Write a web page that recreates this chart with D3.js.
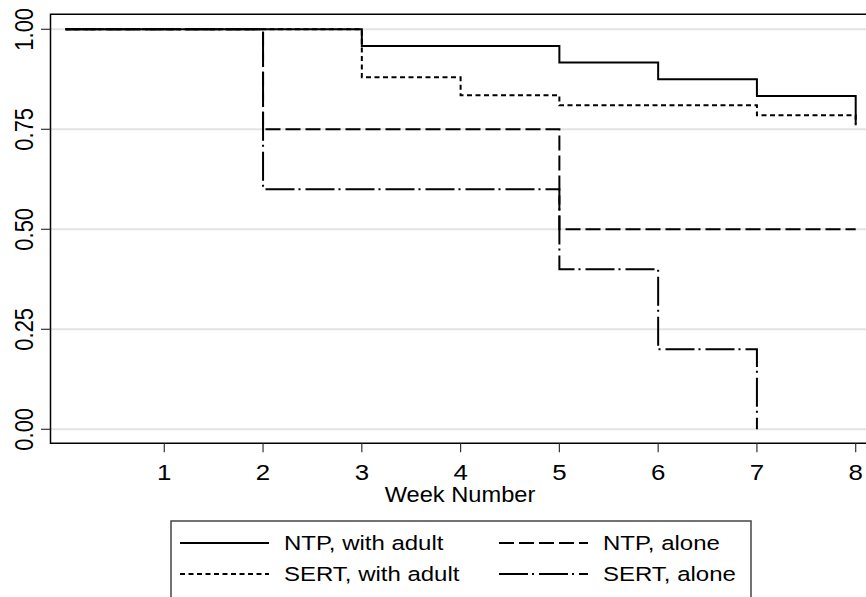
<!DOCTYPE html>
<html>
<head>
<meta charset="utf-8">
<script src="https://cdn.jsdelivr.net/npm/d3@7"></script>
<style>
  body { margin: 0; background: #fff; }
  text { font-family: "Liberation Sans", Arial, sans-serif; fill: #000; }
</style>
</head>
<body>
<script>
// Kaplan-Meier survival estimates by week
var seriesNames = ["NTP, with adult", "NTP, alone", "SERT, with adult", "SERT, alone"];
var ntpAdultWeeks = [0, 3, 5, 6, 7, 8];
var ntpAdultSurv = [1.0, 0.958, 0.917, 0.875, 0.833, 0.764];
var ntpAloneWeeks = [0, 2, 5, 8];
var ntpAloneSurv = [1.0, 0.75, 0.5, 0.5];
var sertAdultWeeks = [0, 3, 4, 5, 7, 8];
var sertAdultSurv = [1.0, 0.88, 0.835, 0.81, 0.785, 0.76];
var sertAloneWeeks = [0, 2, 5, 6, 7];
var sertAloneSurv = [1.0, 0.6, 0.4, 0.2, 0.0];
var xTicks = [1, 2, 3, 4, 5, 6, 7, 8];
var yTicks = [0, 0.25, 0.5, 0.75, 1];

var width = 866, height = 597;
var frame = {left: 50.5, top: 14.3, bottom: 443.3, right: 880};
var sx = 1.15; // horizontal stretch of the original text

var xScale = d3.scaleLinear().domain([0, 8]).range([65.5, 855.7]);
var yScale = d3.scaleLinear().domain([0, 1]).range([429.3, 29.3]);

var dashes = {
  "NTP, with adult": null,
  "NTP, alone": "15,5",
  "SERT, with adult": "5,3.5",
  "SERT, alone": "29,4,2,5"
};

function pts(w, s) { return w.map(function(d, i) { return [d, s[i]]; }); }
var series = [
  {name: "NTP, with adult", values: pts(ntpAdultWeeks, ntpAdultSurv)},
  {name: "NTP, alone", values: pts(ntpAloneWeeks, ntpAloneSurv)},
  {name: "SERT, with adult", values: pts(sertAdultWeeks, sertAdultSurv)},
  {name: "SERT, alone", values: pts(sertAloneWeeks, sertAloneSurv)}
];

var svg = d3.select("body").append("svg")
    .attr("width", width)
    .attr("height", height);

// gridlines
svg.append("g").selectAll("line")
    .data(yTicks)
  .enter().append("line")
    .attr("x1", frame.left).attr("x2", width)
    .attr("y1", function(d) { return yScale(d); })
    .attr("y2", function(d) { return yScale(d); })
    .style("stroke", "#e3e3e3")
    .style("stroke-width", 2);

// frame
svg.append("path")
    .attr("d", "M" + frame.right + "," + frame.top + "H" + frame.left + "V" + frame.bottom + "H" + frame.right)
    .style("fill", "none")
    .style("stroke", "#000")
    .style("stroke-width", 1.5);

// y axis
var yAxisG = svg.append("g");
yAxisG.selectAll("line")
    .data(yTicks)
  .enter().append("line")
    .attr("x1", 41).attr("x2", frame.left)
    .attr("y1", function(d) { return yScale(d); })
    .attr("y2", function(d) { return yScale(d); })
    .style("stroke", "#333")
    .style("stroke-width", 1.2);
yAxisG.selectAll("text")
    .data(yTicks)
  .enter().append("text")
    .attr("transform", function(d) { return "translate(33," + yScale(d) + ") scale(" + sx + ",1) rotate(-90)"; })
    .attr("text-anchor", "middle")
    .style("font-size", "22px")
    .text(d3.format(".2f"));

// x axis
var xAxisG = svg.append("g");
xAxisG.selectAll("line")
    .data(xTicks)
  .enter().append("line")
    .attr("x1", function(d) { return xScale(d); })
    .attr("x2", function(d) { return xScale(d); })
    .attr("y1", frame.bottom).attr("y2", frame.bottom + 9)
    .style("stroke", "#333")
    .style("stroke-width", 1.2);
xAxisG.selectAll("text")
    .data(xTicks)
  .enter().append("text")
    .attr("transform", function(d) { return "translate(" + xScale(d) + ",479.5) scale(" + sx + ",1)"; })
    .attr("text-anchor", "middle")
    .style("font-size", "22.5px")
    .text(function(d) { return d; });

svg.append("text")
    .attr("transform", "translate(460,501.5) scale(1.1,1)")
    .attr("text-anchor", "middle")
    .style("font-size", "21.5px")
    .text("Week Number");

// survival curves
var line = d3.line()
    .curve(d3.curveStepAfter)
    .x(function(d) { return xScale(d[0]); })
    .y(function(d) { return yScale(d[1]); });

svg.append("g").selectAll("path")
    .data(series)
  .enter().append("path")
    .attr("d", function(d) { return line(d.values); })
    .style("fill", "none")
    .style("stroke", "#000")
    .style("stroke-width", 2)
    .style("stroke-dasharray", function(d) { return dashes[d.name]; });

// legend
var legend = svg.append("g").attr("transform", "translate(171,521)");
legend.append("rect")
    .attr("width", 580).attr("height", 100)
    .style("fill", "#fff")
    .style("stroke", "#444")
    .style("stroke-width", 1.5);

var legendItem = legend.selectAll(".legend-item")
    .data(seriesNames)
  .enter().append("g")
    .attr("class", "legend-item")
    .attr("transform", function(d, i) {
      return "translate(" + (i % 2 === 0 ? 9 : 328) + "," + (i < 2 ? 22 : 53) + ")";
    });

legendItem.append("line")
    .attr("x1", 0).attr("x2", 89)
    .style("stroke", "#000")
    .style("stroke-width", 2)
    .style("stroke-dasharray", function(d) { return dashes[d]; });

legendItem.append("text")
    .attr("transform", "translate(104,7) scale(1.17,1)")
    .style("font-size", "20.5px")
    .text(function(d) { return d; });
</script>
</body>
</html>
